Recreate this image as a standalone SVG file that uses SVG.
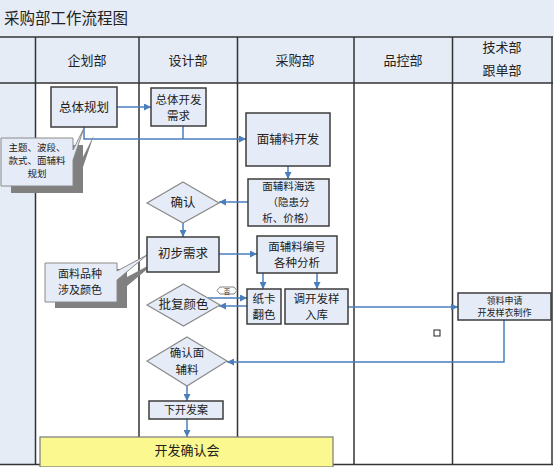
<svg xmlns="http://www.w3.org/2000/svg" width="554" height="467" viewBox="0 0 554 467">
<defs>
<style>
text{font-family:"Noto Sans CJK SC","Liberation Sans",sans-serif;fill:#222;text-anchor:middle}
.box{fill:#e6ecf7;stroke:#3c3c3c;stroke-width:1.5}
.dia{fill:#e6ecf7;stroke:#8a8a8a;stroke-width:1.2}
.lane{stroke:#333;stroke-width:1.5;fill:none}
.hd{font-size:13px}
.t12{font-size:12.5px}
.t2{font-size:11.5px}
.t3{font-size:10.5px}
.t11{font-size:11px}
.t10{font-size:9px}
.tc{font-size:9.5px}
.c{fill:none;stroke:#4a7ebb;stroke-width:1.5}
.ca{fill:none;stroke:#4a7ebb;stroke-width:1.5;marker-end:url(#ah)}
.call{fill:#e6ecf7;stroke:#8a8a8a;stroke-width:1}
.shd{fill:#808080}
</style>
<marker id="ah" viewBox="0 0 10 10" refX="10" refY="5" markerWidth="8" markerHeight="7" orient="auto" markerUnits="userSpaceOnUse">
<path d="M0,0 L10,5 L0,10 z" fill="#4a7ebb"/>
</marker>
</defs>

<g id="background">
<rect x="0" y="0" width="554" height="467" fill="#ffffff"/>
<rect x="0" y="0" width="554" height="37" fill="#e6ecf5"/>
<rect x="0" y="37" width="553" height="46" fill="#e5ecf6"/>
<rect x="0" y="83" width="35" height="381" fill="#e5ecf6"/>
<text x="4" y="24" style="font-size:15.5px;text-anchor:start">采购部工作流程图</text>
</g>

<g id="lanes">
<line class="lane" x1="0" y1="37" x2="553" y2="37"/>
<line class="lane" x1="0" y1="83" x2="553" y2="83" stroke-width="1"/>
<line class="lane" x1="35.5" y1="37" x2="35.5" y2="464"/>
<line class="lane" x1="139" y1="37" x2="139" y2="464"/>
<line class="lane" x1="237.5" y1="37" x2="237.5" y2="464"/>
<line class="lane" x1="354" y1="37" x2="354" y2="464"/>
<line class="lane" x1="452.5" y1="37" x2="452.5" y2="464"/>
<line class="lane" x1="552" y1="37" x2="552" y2="465"/>
<line class="lane" x1="0" y1="464.5" x2="553" y2="464.5"/>
<text class="hd" x="87" y="65">企划部</text>
<text class="hd" x="188" y="65">设计部</text>
<text class="hd" x="295" y="65">采购部</text>
<text class="hd" x="403" y="65">品控部</text>
<text class="hd" x="502" y="52">技术部</text>
<text class="hd" x="502" y="75">跟单部</text>
</g>

<g id="connectors">
<path class="ca" d="M117,107 H151"/>
<path class="ca" d="M84,127 V139 H246"/>
<path class="c" d="M183,126 V139"/>
<path class="ca" d="M288,166 V179"/>
<path class="ca" d="M248,202 H219"/>
<path class="ca" d="M183,223 V237"/>
<path class="ca" d="M219,254 H257"/>
<path class="ca" d="M263,273 V289"/>
<path class="ca" d="M317,273 V289"/>
<path class="ca" d="M208,298 H247"/>
<path class="ca" d="M247,306 H219"/>
<path class="ca" d="M348,307 H458"/>
<path class="ca" d="M504,320 V362 H227"/>
<path class="ca" d="M187,386 V401"/>
<path class="ca" d="M187,419 V437"/>
</g>

<g id="callout-theme">
<path class="shd" d="M11,145 H83 V157 L94,135 L83,167 V193 H11 Z"/>
<path class="call" d="M1,138 H73 V150 L84,128 L73,160 V186 H1 Z"/>
<text class="tc" x="37" y="151">主题、波段、</text>
<text class="tc" x="37" y="164">款式、面辅料</text>
<text class="tc" x="37" y="177">规划</text>
</g>

<g id="callout-fabric">
<path class="shd" d="M55,269 H127 V277 L157,261 L127,286 V308 H55 Z"/>
<path class="call" d="M45,263 H117 V271 L147,255 L117,280 V302 H45 Z"/>
<text class="t11" x="80" y="278">面料品种</text>
<text class="t11" x="80" y="294">涉及颜色</text>
</g>

<g id="n-plan">
<rect class="box" x="51" y="87" width="66" height="40"/>
<text class="t12" x="84" y="112">总体规划</text>
</g>

<g id="n-devreq">
<rect class="box" x="151" y="88" width="55" height="38"/>
<text class="t2" x="178.5" y="104">总体开发</text>
<text class="t2" x="178.5" y="120">需求</text>
</g>

<g id="n-fabdev">
<rect class="box" x="246" y="113" width="84" height="53"/>
<text class="t12" x="288" y="144">面辅料开发</text>
</g>

<g id="n-select">
<rect class="box" x="248" y="179" width="81" height="47"/>
<text class="t3" x="288.5" y="190">面辅料海选</text>
<text class="t3" x="288.5" y="206">（隐患分</text>
<text class="t3" x="288.5" y="222">析、价格）</text>
</g>

<g id="n-confirm">
<polygon class="dia" points="183,182 219,203 183,223 147,203"/>
<text class="t12" x="183" y="207">确认</text>
</g>

<g id="n-prelim">
<rect class="box" x="147" y="237" width="72" height="35"/>
<text class="t12" x="183" y="258">初步需求</text>
</g>

<g id="n-number">
<rect class="box" x="257" y="236" width="80" height="37"/>
<text class="t2" x="297" y="251">面辅料编号</text>
<text class="t2" x="297" y="267">各种分析</text>
</g>

<g id="n-color">
<polygon class="dia" points="183.5,284 220,305 183.5,326 147,305"/>
<text class="t12" x="183.5" y="309">批复颜色</text>
<polygon points="217,290.5 220,287 234,287 237,290.5 234,294 220,294" fill="#ffffff" stroke="#666" stroke-width="0.8"/>
<text x="227" y="293.5" style="font-size:6.5px">否</text>
</g>

<g id="n-card">
<rect class="box" x="247" y="289" width="34" height="35"/>
<text class="t2" x="264" y="303">纸卡</text>
<text class="t2" x="264" y="319">翻色</text>
</g>

<g id="n-sample">
<rect class="box" x="285" y="289" width="63" height="35"/>
<text class="t2" x="316.5" y="303">调开发样</text>
<text class="t2" x="316.5" y="319">入库</text>
</g>

<g id="n-request">
<rect class="box" x="458" y="293" width="93" height="27"/>
<text class="t10" x="504.5" y="303.5">领料申请</text>
<text class="t10" x="504.5" y="316">开发样衣制作</text>
</g>

<g id="n-square">
<rect x="434" y="330" width="6" height="6" fill="#ffffff" stroke="#222" stroke-width="1"/>
</g>

<g id="n-confirmfab">
<polygon class="dia" points="187,337 227,361 187,386 147,361"/>
<text class="t2" x="187" y="357">确认面</text>
<text class="t2" x="187" y="374">辅料</text>
</g>

<g id="n-issue">
<rect class="box" x="149" y="401" width="74" height="18"/>
<text class="t11" x="186" y="414">下开发案</text>
</g>

<g id="n-meeting">
<rect x="40" y="437" width="293" height="30" fill="#fbf88f" stroke="#7a7a7a" stroke-width="1.2"/>
<text class="hd" x="187" y="455">开发确认会</text>
</g>
</svg>
